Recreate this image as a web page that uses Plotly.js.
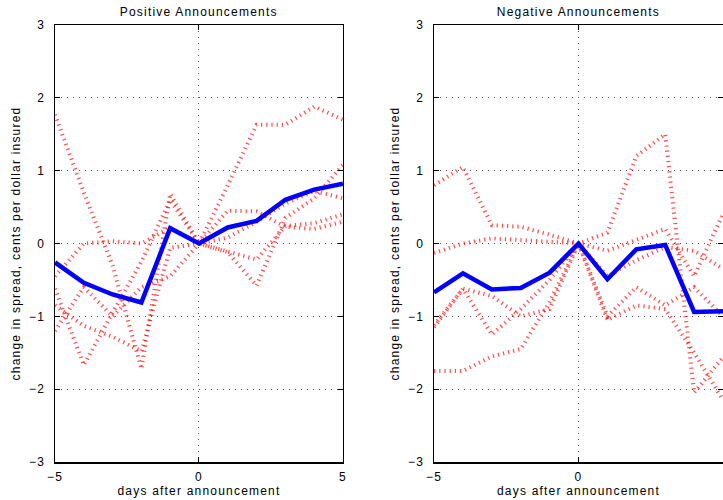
<!DOCTYPE html>
<html>
<head>
<meta charset="utf-8">
<script src="https://cdn.plot.ly/plotly-3.0.1.min.js"></script>
<style>
html,body{margin:0;padding:0;background:#fff;}
#chart{width:723px;height:500px;}
#chart text{letter-spacing:1.2px;}
</style>
</head>
<body>
<div id="chart"></div>
<script>
// days relative to announcement
const days = [-5,-4,-3,-2,-1,0,1,2,3,4,5];

// Positive announcements: average (blue) and individual events (red dotted)
const posMean = [-0.26,-0.54,-0.70,-0.81,0.21,0,0.22,0.31,0.60,0.74,0.82];
const posEvent1 = [1.77,0.70,-0.30,-1.72,0.68,0,0.80,1.63,1.63,1.88,1.70];
const posEvent2 = [-0.62,-1.67,-0.95,-0.25,0.60,0,-0.12,-0.58,0.35,0.62,1.08];
const posEvent3 = [-0.45,0.00,0.03,0.00,0.22,0,0.45,0.44,0.23,0.20,0.30];
const posEvent4 = [-1.20,-0.60,-1.00,-0.60,-0.45,0,0.08,0.30,0.55,0.72,0.62];
const posEvent5 = [-0.85,-1.13,-1.28,-1.48,-0.06,0,-0.11,-0.22,0.24,0.28,0.40];

// Negative announcements: average (blue) and individual events (red dotted)
const negMean = [-0.67,-0.41,-0.63,-0.61,-0.40,0,-0.49,-0.08,-0.02,-0.94,-0.93];
const negEvent1 = [0.80,1.05,0.25,0.23,0.12,0,0.15,1.20,1.50,-2.05,-1.56];
const negEvent2 = [-0.13,0.00,0.07,0.05,0.02,0,-0.10,0.05,0.20,-0.45,0.41];
const negEvent3 = [-1.75,-1.75,-1.55,-1.45,-0.80,0,-1.05,-0.85,-0.90,-1.50,-2.15];
const negEvent4 = [-1.15,-0.62,-1.25,-0.90,-0.50,0,-0.45,-0.23,-0.05,-0.10,-0.35];
const negEvent5 = [-1.12,-0.62,-0.72,-1.00,-0.90,0,-1.00,-0.60,-0.85,-0.60,-1.00];

const panelTitles = ['Positive Announcements','Negative Announcements'];
const xTitle = 'days after announcement';
const yTitle = 'change in spread, cents per dollar insured';
const xTicks = [-5,0,5];
const yTicks = [-3,-2,-1,0,1,2,3];

const FONT = 'Liberation Sans, Arial, Helvetica, sans-serif';
const redLine = {color:'rgba(255,0,0,0.7)', width:4, dash:'1.2px,4px'};
const blueLine = {color:'#0000ff', width:4.5};

function eventTrace(y, xa, ya){
  return {x:days, y:y, type:'scatter', mode:'lines', line:redLine,
          xaxis:xa, yaxis:ya, showlegend:false, hoverinfo:'skip'};
}
function meanTrace(y, xa, ya){
  return {x:days, y:y, type:'scatter', mode:'lines', line:blueLine,
          xaxis:xa, yaxis:ya, showlegend:false};
}

const traces = [
  eventTrace(posEvent1,'x','y'), eventTrace(posEvent2,'x','y'), eventTrace(posEvent3,'x','y'),
  eventTrace(posEvent4,'x','y'), eventTrace(posEvent5,'x','y'),
  meanTrace(posMean,'x','y'),
  eventTrace(negEvent1,'x2','y2'), eventTrace(negEvent2,'x2','y2'), eventTrace(negEvent3,'x2','y2'),
  eventTrace(negEvent4,'x2','y2'), eventTrace(negEvent5,'x2','y2'),
  meanTrace(negMean,'x2','y2')
];

function xAxis(domain, anchor){
  return {domain:domain, anchor:anchor, range:[-5,5], tickvals:xTicks,
    showline:true, linecolor:'#000', linewidth:1.5, mirror:'ticks',
    ticks:'inside', ticklen:5, tickwidth:1, tickcolor:'#000',
    showgrid:true, gridcolor:'#555', gridwidth:1, griddash:'1px,5px',
    zeroline:false, ticklabelstandoff:3,
    tickfont:{family:FONT, size:12, color:'#000'},
    title:{text:xTitle, font:{family:FONT, size:12, color:'#000'}, standoff:3}};
}
function yAxis(anchor){
  return {domain:[0,1], anchor:anchor, range:[-3,3], tickvals:yTicks,
    showline:true, linecolor:'#000', linewidth:1.5, mirror:'ticks',
    ticks:'inside', ticklen:5, tickwidth:1, tickcolor:'#000',
    showgrid:true, gridcolor:'#555', gridwidth:1, griddash:'1px,5px',
    zeroline:false, ticklabelstandoff:6,
    tickfont:{family:FONT, size:12, color:'#000'},
    title:{text:yTitle, font:{family:FONT, size:12, color:'#000'}, standoff:8}};
}

const layout = {
  width:723, height:500,
  margin:{l:55, r:0, t:25, b:38, autoexpand:false},
  paper_bgcolor:'#fff', plot_bgcolor:'#fff',
  font:{family:FONT, size:12, color:'#000'},
  showlegend:false,
  xaxis: xAxis([0,0.4311],'y'),
  yaxis: yAxis('x'),
  xaxis2: xAxis([0.5674,1],'y2'),
  yaxis2: yAxis('x2'),
  annotations:[
    {text:panelTitles[0], xref:'x domain', yref:'paper', x:0.5, y:1, xanchor:'center', yanchor:'bottom',
     yshift:4, showarrow:false, font:{family:FONT, size:12, color:'#000'}},
    {text:panelTitles[1], xref:'x2 domain', yref:'paper', x:0.5, y:1, xanchor:'center', yanchor:'bottom',
     yshift:4, showarrow:false, font:{family:FONT, size:12, color:'#000'}}
  ]
};

Plotly.newPlot('chart', traces, layout, {displayModeBar:false, staticPlot:true});
</script>
</body>
</html>
